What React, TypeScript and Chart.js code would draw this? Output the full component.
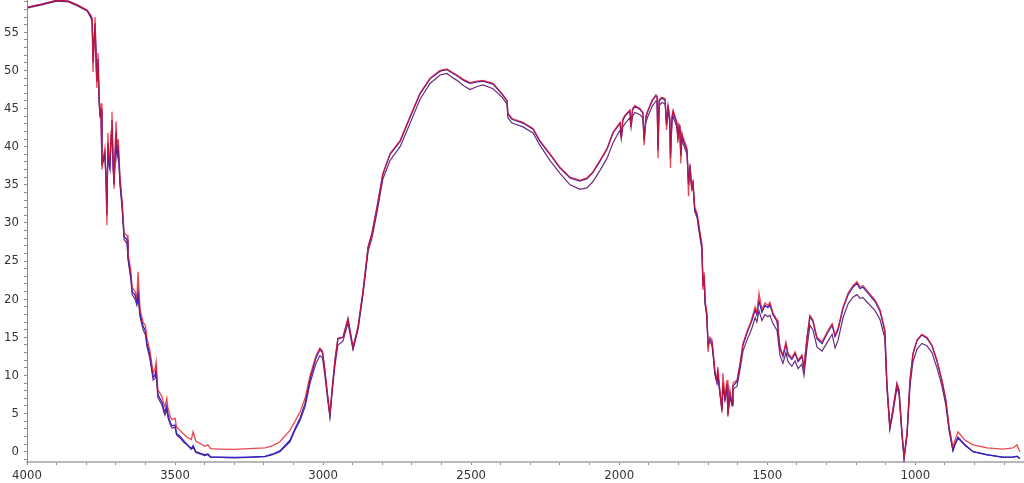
import React, { useEffect, useRef } from "react";
import { Chart, registerables } from "chart.js";

Chart.register(...registerables);

// Wavenumber (cm-1) of each sample point
const wavenumbers = [
  3997, 3950, 3899, 3860, 3831, 3797, 3784, 3780, 3777, 3773,
  3770, 3766, 3764, 3760, 3756, 3753, 3750, 3747, 3743, 3737,
  3733, 3730, 3727, 3723, 3720, 3716, 3713, 3709, 3706, 3702,
  3699, 3696, 3692, 3686, 3679, 3672, 3662, 3659, 3649, 3645,
  3635, 3629, 3625, 3618, 3608, 3600, 3595, 3585, 3574, 3568,
  3564, 3558, 3544, 3538, 3534, 3528, 3524, 3516, 3510, 3500,
  3495, 3483, 3470, 3460, 3445, 3439, 3430, 3416, 3400, 3389,
  3380, 3350, 3300, 3250, 3196, 3170, 3146, 3112, 3095, 3078,
  3061, 3044, 3025, 3011, 3002, 2994, 2985, 2977, 2970, 2960,
  2950, 2933, 2916, 2907, 2899, 2882, 2865, 2848, 2835, 2818,
  2798, 2774, 2740, 2707, 2673, 2639, 2605, 2582, 2565, 2548,
  2525, 2504, 2480, 2460, 2426, 2396, 2379, 2376, 2362, 2325,
  2291, 2268, 2234, 2200, 2166, 2133, 2109, 2089, 2065, 2041,
  2021, 2010, 1997, 1993, 1988, 1981, 1964, 1960, 1955, 1947,
  1930, 1920, 1916, 1910, 1903, 1889, 1876, 1872, 1869, 1865,
  1856, 1845, 1840, 1835, 1829, 1827, 1822, 1818, 1805, 1802,
  1798, 1795, 1792, 1788, 1785, 1771, 1766, 1761, 1755, 1751,
  1745, 1737, 1727, 1721, 1717, 1713, 1710, 1704, 1700, 1694,
  1687, 1683, 1677, 1670, 1667, 1660, 1653, 1650, 1643, 1636,
  1633, 1626, 1619, 1616, 1602, 1592, 1582, 1569, 1558, 1552,
  1541, 1535, 1528, 1518, 1508, 1498, 1491, 1481, 1467, 1464,
  1457, 1447, 1437, 1430, 1417, 1406, 1396, 1383, 1376, 1366,
  1356, 1346, 1332, 1315, 1298, 1281, 1271, 1261, 1244, 1227,
  1210, 1197, 1187, 1177, 1160, 1136, 1119, 1103, 1096, 1086,
  1076, 1062, 1055, 1045, 1038, 1028, 1018, 1008, 994, 978,
  961, 944, 927, 910, 897, 886, 873, 866, 856, 832,
  805, 758, 704, 670, 657, 647,
];

const seriesRed = [
  58.3, 58.7, 59.2, 59.1, 58.6, 57.9, 57.2, 56.9, 49.8, 54,
  57.0, 50, 47.7, 52.3, 46, 43.7, 45.7, 37.0, 38.5, 39.8,
  35, 29.7, 41.8, 38.5, 37.9, 42, 44.6, 38, 34.5, 40,
  43.3, 39.6, 41, 36.1, 33.0, 28.6, 28.4, 26.0, 23.6, 21.6,
  21, 20.1, 23.6, 18.6, 17.0, 16.5, 14.9, 13.3, 10.3, 10.8,
  11.8, 8.1, 7.2, 6.3, 5.9, 7, 5.7, 4.6, 4.2, 4.4,
  3.2, 2.8, 2.3, 1.9, 1.6, 2.6, 1.4, 1.1, 0.7, 0.9,
  0.4, 0.35, 0.3, 0.4, 0.5, 0.8, 1.3, 2.8, 4.0, 5.2,
  7.0, 10.0, 12.5, 13.6, 13.2, 10.7, 7.5, 4.8, 8.0, 12.0,
  14.9, 15.0, 17.5, 15.5, 13.7, 16.4, 21.2, 26.9, 28.7, 32.1,
  36.5, 39.1, 40.8, 43.9, 47.0, 49.0, 50.0, 50.2, 49.8, 49.4,
  48.8, 48.4, 48.6, 48.7, 48.3, 47.0, 46.1, 44.4, 43.7, 43.2,
  42.4, 40.8, 39.1, 37.3, 36.0, 35.6, 35.9, 36.7, 38.2, 39.8,
  41.9, 42.5, 43.2, 41.1, 43.6, 44.1, 44.8, 42.6, 45.0, 45.4,
  45.0, 44.5, 40.2, 44.0, 44.8, 46.1, 46.8, 46.6, 38.5, 46.2,
  46.5, 46.3, 42.2, 45.5, 43.7, 37.2, 44.0, 44.8, 43.2, 40.5,
  42.9, 42.6, 37.8, 41.8, 41.3, 39.8, 33.5, 37.8, 34.3, 35.6,
  32.1, 31.3, 28.7, 27.3, 21.2, 23.5, 19.9, 18.2, 13.1, 15.0,
  14.7, 13.3, 10.7, 9.4, 11.1, 8.1, 5.1, 10.3, 7.2, 9.4,
  4.6, 8.1, 6.4, 9.0, 9.4, 11.6, 14.2, 15.7, 16.8, 17.5,
  19.0, 18.2, 20.8, 18.6, 19.5, 19.2, 19.6, 18.2, 17.3, 16.2,
  13.7, 12.7, 14.4, 12.9, 12.3, 13.1, 12.0, 12.7, 11.1, 15.0,
  17.9, 17.3, 15.0, 14.4, 15.7, 16.8, 15.3, 16.2, 19.0, 20.8,
  21.8, 22.3, 21.6, 21.8, 21.0, 19.9, 18.6, 16.0, 9.0, 3.3,
  5.5, 9.0, 8.1, 2.5, -0.7, 2.5, 9.4, 12.9, 14.7, 15.4,
  15.0, 14.0, 12.0, 9.4, 6.8, 3.3, 0.6, 1.5, 2.6, 1.5,
  0.9, 0.5, 0.35, 0.5, 0.9, 0.0,
];

const seriesBlue = [
  58.3, 58.7, 59.2, 59.1, 58.6, 57.9, 57.1, 56.6, 51.0, 54.5,
  56.2, 50.5, 48.5, 51.5, 45.5, 44.0, 45.0, 37.5, 38.3, 39.2,
  35.5, 31.0, 40.5, 38.0, 37.5, 41.5, 43.5, 37.5, 35.0, 39.5,
  42.0, 39.0, 40.2, 35.5, 32.5, 28.2, 27.8, 25.6, 23.0, 21.0,
  20.5, 19.6, 21.0, 18.0, 16.5, 15.8, 14.2, 12.7, 9.8, 10.0,
  10.8, 7.5, 6.5, 5.6, 5.2, 6.0, 4.9, 3.8, 3.4, 3.5,
  2.4, 2.0, 1.4, 1.0, 0.4, 0.8, 0.0, -0.2, -0.4, -0.3,
  -0.7, -0.7, -0.75, -0.7, -0.6, -0.3, 0.1, 1.5, 3.0, 4.4,
  6.3, 9.5, 12.2, 13.4, 13.0, 10.6, 7.4, 4.8, 8.0, 12.0,
  14.8, 15.0, 17.4, 15.4, 13.6, 16.3, 21.1, 26.8, 28.6, 32.0,
  36.4, 39.0, 40.7, 43.8, 46.9, 48.9, 49.9, 50.1, 49.7, 49.3,
  48.7, 48.3, 48.5, 48.6, 48.2, 46.9, 46.0, 44.3, 43.6, 43.1,
  42.3, 40.7, 39.0, 37.2, 35.9, 35.5, 35.8, 36.6, 38.1, 39.7,
  41.8, 42.4, 43.1, 41.4, 43.4, 44.0, 44.7, 43.0, 44.8, 45.3,
  44.9, 44.4, 40.8, 43.8, 44.7, 46.0, 46.7, 46.5, 39.5, 46.0,
  46.4, 46.1, 42.8, 45.3, 43.5, 38.5, 43.7, 44.6, 43.0, 41.0,
  42.7, 42.3, 38.8, 41.5, 41.0, 39.5, 35.0, 37.5, 34.6, 35.3,
  31.8, 31.0, 28.4, 27.0, 21.8, 23.0, 19.6, 17.9, 14.0, 14.7,
  14.4, 13.0, 10.4, 9.2, 10.4, 7.8, 5.6, 9.0, 7.0, 8.8,
  5.0, 7.6, 6.3, 8.6, 9.2, 11.4, 14.0, 15.5, 16.6, 17.2,
  18.6, 17.9, 19.8, 18.3, 19.2, 18.9, 19.3, 18.0, 17.1, 16.0,
  13.6, 12.5, 14.1, 12.7, 12.1, 12.9, 11.8, 12.5, 11.0, 14.8,
  17.7, 17.1, 14.8, 14.2, 15.5, 16.6, 15.1, 16.0, 18.8, 20.6,
  21.6, 22.1, 21.4, 21.6, 20.8, 19.7, 18.4, 15.8, 8.9, 3.2,
  5.4, 8.9, 8.0, 2.4, -0.8, 2.4, 9.3, 12.8, 14.6, 15.3,
  14.9, 13.9, 11.9, 9.3, 6.7, 3.1, 0.2, 1.0, 1.9, 0.9,
  0.0, -0.4, -0.7, -0.7, -0.6, -0.9,
];

const seriesPurple = [
  58.2, 58.6, 59.1, 59.0, 58.5, 57.8, 56.9, 56.3, 52.0, 54.0,
  55.5, 51.0, 49.0, 50.5, 45.8, 44.2, 44.5, 38.5, 38.0, 38.8,
  36.0, 32.5, 39.5, 37.5, 37.0, 40.5, 42.5, 37.2, 35.2, 38.8,
  41.0, 38.5, 39.5, 35.0, 32.0, 27.8, 27.3, 25.2, 22.5, 20.6,
  20.0, 19.2, 20.2, 17.6, 16.0, 15.3, 13.8, 12.2, 9.4, 9.6,
  10.2, 7.1, 6.1, 5.2, 4.8, 5.5, 4.5, 3.5, 3.1, 3.2,
  2.2, 1.8, 1.2, 0.9, 0.3, 0.6, -0.1, -0.3, -0.5, -0.4,
  -0.7, -0.75, -0.8, -0.75, -0.65, -0.4, 0.0, 1.3, 2.8, 4.1,
  5.9, 9.0, 11.5, 12.6, 12.3, 10.0, 7.0, 4.5, 7.6, 11.3,
  14.0, 14.5, 16.9, 15.0, 13.4, 16.0, 20.7, 26.3, 28.0, 31.4,
  35.8, 38.2, 40.0, 43.0, 46.2, 48.3, 49.4, 49.6, 49.1, 48.7,
  48.0, 47.5, 47.9, 48.1, 47.6, 46.5, 45.6, 43.8, 43.1, 42.6,
  41.8, 40.2, 38.2, 36.5, 35.0, 34.4, 34.6, 35.4, 36.9, 38.5,
  40.5, 41.3, 42.2, 41.0, 42.6, 43.0, 43.8, 42.5, 44.0, 44.5,
  44.2, 43.8, 41.0, 43.2, 44.0, 45.3, 46.0, 45.9, 40.0, 45.4,
  45.8, 45.6, 43.0, 44.8, 43.0, 39.0, 43.2, 44.0, 42.5, 41.2,
  42.2, 41.8, 39.0, 41.0, 40.5, 39.0, 35.5, 37.0, 34.5, 35.0,
  31.5, 30.7, 28.0, 26.6, 22.0, 22.6, 19.3, 17.6, 14.2, 14.4,
  14.0, 12.7, 10.1, 9.0, 10.0, 7.6, 5.4, 8.6, 6.8, 8.4,
  4.8, 7.2, 6.0, 8.2, 8.6, 10.8, 13.2, 14.6, 15.6, 16.2,
  17.6, 17.0, 18.5, 17.2, 18.0, 17.7, 17.9, 16.8, 15.9, 14.9,
  12.6, 11.6, 13.0, 11.8, 11.2, 11.9, 10.9, 11.5, 10.0, 13.6,
  16.6, 16.0, 13.7, 13.2, 14.3, 15.4, 13.6, 14.6, 17.6, 19.4,
  20.3, 20.6, 20.1, 20.2, 19.5, 18.5, 17.3, 14.9, 8.4, 2.9,
  5.0, 8.4, 7.5, 2.1, -0.9, 2.1, 8.6, 11.8, 13.5, 14.2,
  13.9, 13.0, 11.0, 8.6, 6.1, 2.8, 0.1, 0.9, 1.8, 0.8,
  0.0, -0.4, -0.75, -0.7, -0.6, -0.9,
];

const xTickLabels = [4000, 3500, 3000, 2500, 2000, 1500, 1000];
const yTickLabels = [0, 5, 10, 15, 20, 25, 30, 35, 40, 45, 50, 55];

const X_MIN = 633;
const X_MAX = 4000;
const X_MINOR_STEP = 100;
const Y_MIN = -1.35;
const Y_MAX = 59.24;
const Y_MINOR_STEP = 1;

const FONT = {
  family: "'Liberation Sans Narrow', 'DejaVu Sans Condensed', 'Liberation Sans', Arial, sans-serif",
  size: 13,
};

export default function App() {
  const canvasRef = useRef<HTMLCanvasElement | null>(null);

  useEffect(() => {
    document.body.style.margin = "0";
    const canvas = canvasRef.current;
    if (!canvas) return;
    const toPoints = (ys: number[]) => wavenumbers.map((x, i) => ({ x, y: ys[i] }));

    const zeroPadding = (s: any) => {
      s.paddingTop = 0;
      s.paddingBottom = 0;
      s.paddingLeft = 0;
      s.paddingRight = 0;
    };

    const chart = new Chart(canvas, {
      type: "line",
      data: {
        datasets: [
          {
            label: "red",
            data: toPoints(seriesRed),
            borderColor: "rgba(230, 18, 30, 0.78)",
            borderWidth: 1.3,
            pointRadius: 0,
            tension: 0,
          },
          {
            label: "blue",
            data: toPoints(seriesBlue),
            borderColor: "#3020c8",
            borderWidth: 1.3,
            pointRadius: 0,
            tension: 0,
          },
          {
            label: "purple",
            data: toPoints(seriesPurple),
            borderColor: "#6a2e78",
            borderWidth: 1.2,
            pointRadius: 0,
            tension: 0,
          },
        ],
      },
      options: {
        animation: false,
        responsive: false,
        events: [],
        layout: { padding: 0 },
        plugins: {
          legend: { display: false },
          tooltip: { enabled: false },
        },
        scales: {
          x: {
            type: "linear",
            reverse: true,
            min: X_MIN,
            max: X_MAX,
            afterBuildTicks: (s: any) => {
              const t = [];
              for (let v = X_MAX; v >= 700; v -= X_MINOR_STEP) t.push({ value: v });
              s.ticks = t;
            },
            afterFit: (s: any) => {
              s.height = 21;
              zeroPadding(s);
            },
            ticks: {
              autoSkip: false,
              maxRotation: 0,
              padding: 3,
              color: "#333",
              font: FONT,
              callback: (v: any) => (xTickLabels.includes(Number(v)) ? String(v) : ""),
            },
            grid: { drawOnChartArea: false, tickLength: 3, color: "#8a8a8a" },
            border: { color: "#b8b8b8", width: 2 },
          },
          y: {
            type: "linear",
            min: Y_MIN,
            max: Y_MAX,
            afterBuildTicks: (s: any) => {
              const t = [];
              for (let v = -1; v <= 59; v += Y_MINOR_STEP) t.push({ value: v });
              s.ticks = t;
            },
            afterFit: (s: any) => {
              s.width = 27;
              zeroPadding(s);
            },
            ticks: {
              autoSkip: false,
              padding: 5,
              color: "#333",
              font: FONT,
              callback: (v: any) => (yTickLabels.includes(Number(v)) ? String(v) : ""),
            },
            grid: { drawOnChartArea: false, tickLength: 3, color: "#8a8a8a" },
            border: { color: "#8a8a8a", width: 1 },
          },
        },
      },
    });

    return () => chart.destroy();
  }, []);

  return (
    <div style={{ width: 1024, height: 483 }}>
      <canvas ref={canvasRef} width={1024} height={483} style={{ display: "block" }} />
    </div>
  );
}
